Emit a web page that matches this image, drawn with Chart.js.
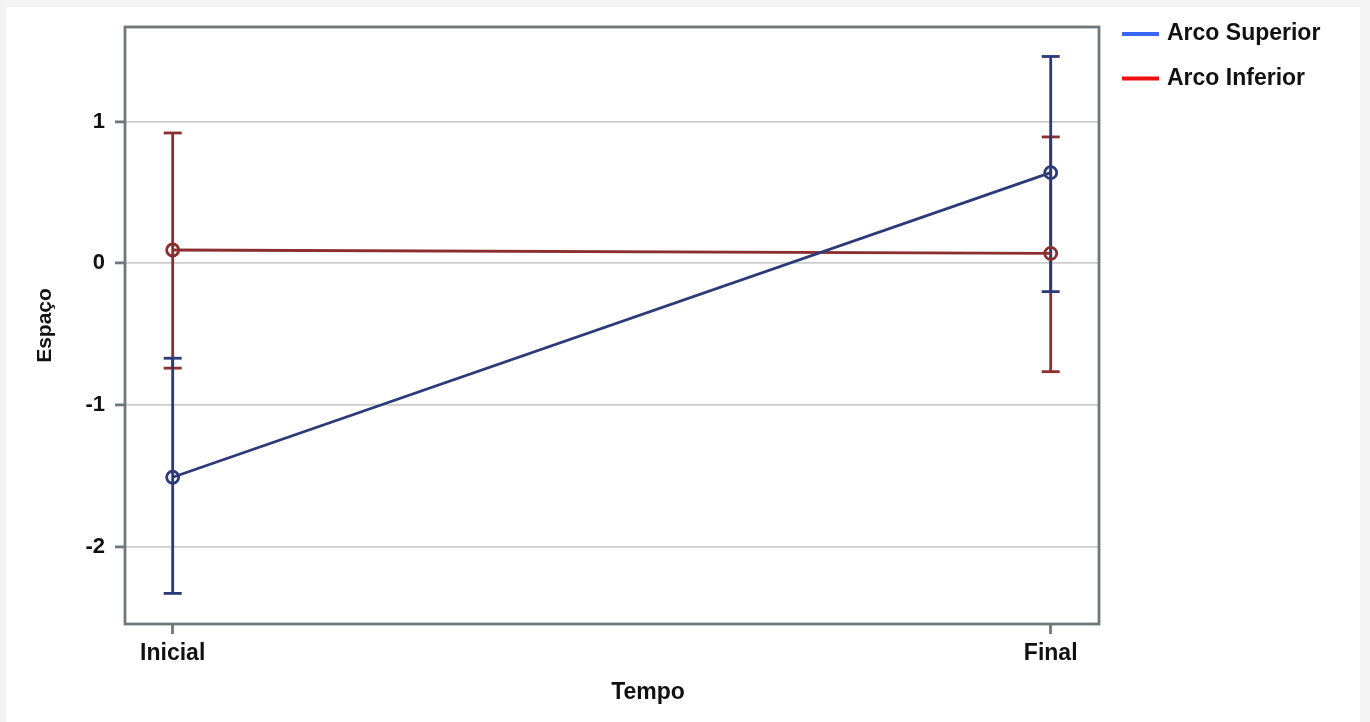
<!DOCTYPE html>
<html>
<head>
<meta charset="utf-8">
<script src="https://cdn.jsdelivr.net/npm/chart.js@4/dist/chart.umd.min.js"></script>
<style>
  html, body { margin: 0; padding: 0; background: #f3f3f3; }
  #card { position: absolute; left: 6px; top: 7px; width: 1354px; height: 715px; background: #fff; }
  #wrap { position: absolute; left: 0; top: 0; width: 1370px; height: 722px; }
</style>
</head>
<body>
<div id="card"></div>
<div id="wrap"><canvas id="chart"></canvas></div>
<script>
const categories = ["Inicial", "Final"];
const seriesNames = ["Arco Superior", "Arco Inferior"];

const superiorMean = [-1.51, 0.64];
const superiorLower = [-2.33, -0.20];
const superiorUpper = [-0.67, 1.46];

const inferiorMean = [0.094, 0.07];
const inferiorLower = [-0.74, -0.765];
const inferiorUpper = [0.92, 0.892];

const yTicks = [-2, -1, 0, 1];

const lineColors = ["#2c3a78", "#8c2e2e"];
const legendColors = ["#3a66f5", "#f01010"];
const frameColor = "#70777b";
const font = "'Liberation Sans', Arial, sans-serif";

// one small dataset per error bar, caps are 'line' points
const errorBars = (lower, upper, color, name, order) =>
  categories.map((c, i) => ({
    label: name + " " + c,
    data: [{ x: i, y: lower[i] }, { x: i, y: upper[i] }],
    borderColor: color,
    borderWidth: 2.8,
    pointStyle: "line",
    pointRadius: 9,
    pointBorderColor: color,
    pointBorderWidth: 2.8,
    showLine: true,
    order
  }));

const meanLine = (mean, color, name, order) => ({
  label: name,
  data: mean.map((v, i) => ({ x: i, y: v })),
  borderColor: color,
  borderWidth: 2.8,
  pointStyle: "circle",
  pointRadius: 6,
  pointBorderColor: color,
  pointBorderWidth: 2.8,
  pointBackgroundColor: "rgba(0,0,0,0)",
  showLine: true,
  order
});

// frame, custom legend and x title
const extras = {
  id: "extras",
  afterDraw(chart) {
    const { ctx, chartArea: a } = chart;
    ctx.save();
    ctx.strokeStyle = frameColor;
    ctx.lineWidth = 2.8;
    ctx.strokeRect(a.left, a.top, a.right - a.left, a.bottom - a.top);

    ctx.font = "bold 23px " + font;
    ctx.fillStyle = "#111";
    ctx.textBaseline = "middle";
    seriesNames.forEach((name, i) => {
      const y = 34 + i * 44.5;
      ctx.strokeStyle = legendColors[i];
      ctx.lineWidth = 4;
      ctx.beginPath();
      ctx.moveTo(1122, y);
      ctx.lineTo(1159, y);
      ctx.stroke();
      ctx.textAlign = "left";
      ctx.fillText(name, 1167, y);
    });

    ctx.textAlign = "center";
    ctx.fillText("Tempo", (a.left + a.right) / 2 + 36, 693);
    ctx.restore();
  }
};

new Chart(document.getElementById("chart"), {
  type: "scatter",
  data: {
    datasets: [
      meanLine(superiorMean, lineColors[0], seriesNames[0], 0),
      meanLine(inferiorMean, lineColors[1], seriesNames[1], 1),
      ...errorBars(superiorLower, superiorUpper, lineColors[0], seriesNames[0], 2),
      ...errorBars(inferiorLower, inferiorUpper, lineColors[1], seriesNames[1], 3)
    ]
  },
  options: {
    responsive: true,
    maintainAspectRatio: false,
    animation: false,
    layout: { padding: { top: 27, right: 271, left: 0, bottom: 0 } },
    plugins: { legend: { display: false }, tooltip: { enabled: false } },
    scales: {
      x: {
        type: "linear",
        min: -0.0543,
        max: 1.055,
        afterBuildTicks: (s) => { s.ticks = categories.map((c, i) => ({ value: i })); },
        afterFit: (s) => { s.height = 98; },
        border: { display: false },
        grid: { drawOnChartArea: false, drawTicks: true, tickLength: 10, tickColor: frameColor, tickWidth: 2.8 },
        ticks: {
          padding: 6,
          color: "#111",
          font: { family: font, size: 23, weight: "bold" },
          callback: (v) => categories[v]
        }
      },
      y: {
        min: -2.546,
        max: 1.668,
        afterBuildTicks: (s) => { s.ticks = yTicks.map((v) => ({ value: v })); },
        afterFit: (s) => { s.width = 125; },
        border: { display: false },
        grid: { color: "#cccccc", lineWidth: 1.8, tickLength: 10, tickColor: frameColor, tickWidth: 2.8 },
        ticks: {
          padding: 10,
          color: "#111",
          font: { family: font, size: 22, weight: "bold" },
          callback: (v) => String(v)
        },
        title: {
          display: true,
          text: "Espaço",
          color: "#111",
          padding: { top: 33, bottom: 0 },
          font: { family: font, size: 21, weight: "bold" }
        }
      }
    }
  },
  plugins: [extras]
});
</script>
</body>
</html>
